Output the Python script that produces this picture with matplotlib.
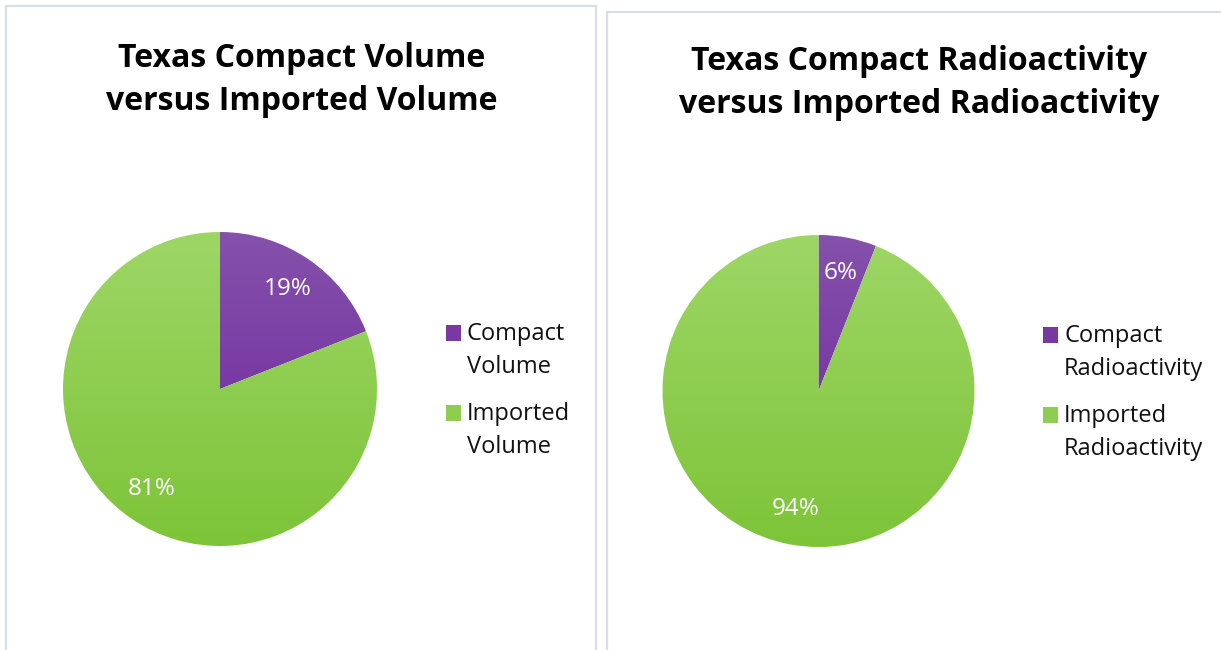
import numpy as np
import matplotlib
matplotlib.use("Agg")
import matplotlib.pyplot as plt
from matplotlib.patches import Rectangle

# ---- data ----
titles = ["Texas Compact Volume\nversus Imported Volume",
          "Texas Compact Radioactivity\nversus Imported Radioactivity"]
labels_left = ["Compact\nVolume", "Imported\nVolume"]
labels_right = ["Compact\nRadioactivity", "Imported\nRadioactivity"]
values_left = [19, 81]
values_right = [6, 94]

W, H = 1221, 650
fig = plt.figure(figsize=(W / 100, H / 100), dpi=100)
fig.patch.set_facecolor("white")
ax = fig.add_axes([0, 0, 1, 1])
ax.set_xlim(0, W)
ax.set_ylim(0, H)
ax.set_aspect("equal")
ax.axis("off")

FONT = ["Open Sans", "DejaVu Sans"]
border = "#D9DEE4"

# panel borders
ax.add_patch(Rectangle((6, -20), 590, H - 6 + 20, fill=False, ec=border, lw=1.6))
ax.add_patch(Rectangle((607, -20), 700, H - 12 + 20, fill=False, ec=border, lw=1.6))

purple_top, purple_bot = np.array([0.52, 0.32, 0.67]), np.array([0.42, 0.13, 0.61])
green_top, green_bot = np.array([0.62, 0.84, 0.40]), np.array([0.49, 0.77, 0.22])


def gradient_fill(patch, cy, r, ctop, cbot):
    n = 256
    t = np.linspace(0, 1, n)[:, None]
    img = ctop[None, :] * (1 - t) + cbot[None, :] * t
    img = np.repeat(img[:, None, :], 2, axis=1)
    im = ax.imshow(img, extent=(0, W, cy - r, cy + r), origin="upper",
                   aspect="auto", zorder=2, interpolation="bilinear")
    im.set_clip_path(patch)


def draw_pie(vals, cx, cy, r, legend_labels, legend_x, legend_ys):
    wedges, texts, autotexts = ax.pie(
        vals, center=(cx, H - cy), radius=r, startangle=90, counterclock=False,
        autopct="%d%%", pctdistance=0.77, colors=["none", "none"],
        wedgeprops=dict(lw=0), textprops=dict(color="white", fontsize=17.5, family=FONT),
        frame=True)
    for w in wedges:
        w.set_zorder(1)
    gradient_fill(wedges[0], H - cy, r, purple_top, purple_bot)
    gradient_fill(wedges[1], H - cy, r, green_top, green_bot)
    for a in autotexts:
        a.set_zorder(5)
    cols = [(purple_top + purple_bot) / 2, (green_top + green_bot) / 2]
    for lab, ly, c in zip(legend_labels, legend_ys, cols):
        ax.add_patch(Rectangle((legend_x - 21, H - ly - 8), 15, 16,
                               fc=c, ec="none", zorder=3))
        ax.text(legend_x, H - ly + 11, lab, fontsize=17, family=FONT,
                va="top", ha="left", color="#111111", linespacing=1.5, zorder=3)


draw_pie(values_left, 220, 389, 157, labels_left, 467, [333, 413])
draw_pie(values_right, 818.5, 391, 156, labels_right, 1064, [335, 415])

ax.set_xlim(0, W)
ax.set_ylim(0, H)
ax.axis("off")

ax.text(302, H - 80, titles[0], ha="center", va="center", fontsize=23,
        fontweight="bold", family=FONT, linespacing=1.43)
ax.text(919, H - 83, titles[1], ha="center", va="center", fontsize=23,
        fontweight="bold", family=FONT, linespacing=1.43)

fig.savefig("out.png", dpi=100, facecolor="white")
